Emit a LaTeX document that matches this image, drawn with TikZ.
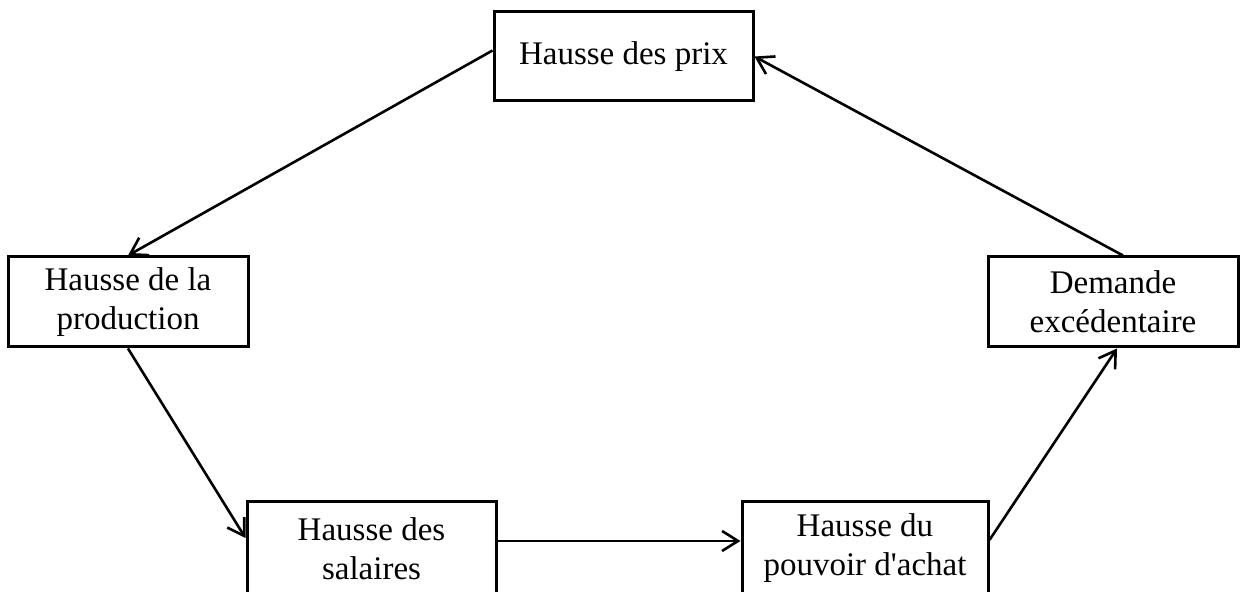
\documentclass[tikz,border=0pt]{standalone}
\usepackage{fontspec}
\setmainfont{Liberation Serif}
\usetikzlibrary{positioning,arrows.meta}

\begin{document}
\begin{tikzpicture}[
    x=0.5pt, y=-0.5pt,
    box/.style={rectangle, draw, line width=1.5pt, align=center,
                font=\fontsize{16.5pt}{19.5pt}\selectfont, inner sep=0pt},
    arr/.style={-{Straight Barb[length=8pt, width=10pt]}, line width=1.3pt},
]
\useasboundingbox (0,0) rectangle (1244,592);

\node[box, minimum width=129.5pt, minimum height=44.5pt] (prix) at (623.5,56.5)
    {Hausse des prix};
\node[box, minimum width=120pt, minimum height=45pt] (production) at (128,302)
    {Hausse de la\\production};
\node[box, minimum width=125pt, minimum height=45pt] (demande) at (1113,302)
    {Demande\\exc\'edentaire};
\node[box, minimum width=124.5pt, minimum height=46.5pt] (salaires) at (371.5,548.5)
    {Hausse des\\salaires};
\node[box, minimum width=123pt, minimum height=46.5pt] (pouvoir) at (865,548.5)
    {Hausse du\\pouvoir d\textquotesingle achat};

\draw[arr] ([yshift=3pt]prix.west) -- (production.north);
\draw[arr] (production.south) -- ([yshift=5.25pt]salaires.west);
\draw[arr] ([yshift=3.75pt]salaires.east) -- ([yshift=3.75pt]pouvoir.west);
\draw[arr] ([yshift=4.25pt]pouvoir.east) -- ([xshift=2pt]demande.south);
\draw[arr] ([xshift=5pt]demande.north) -- (prix.east);
\end{tikzpicture}
\end{document}
